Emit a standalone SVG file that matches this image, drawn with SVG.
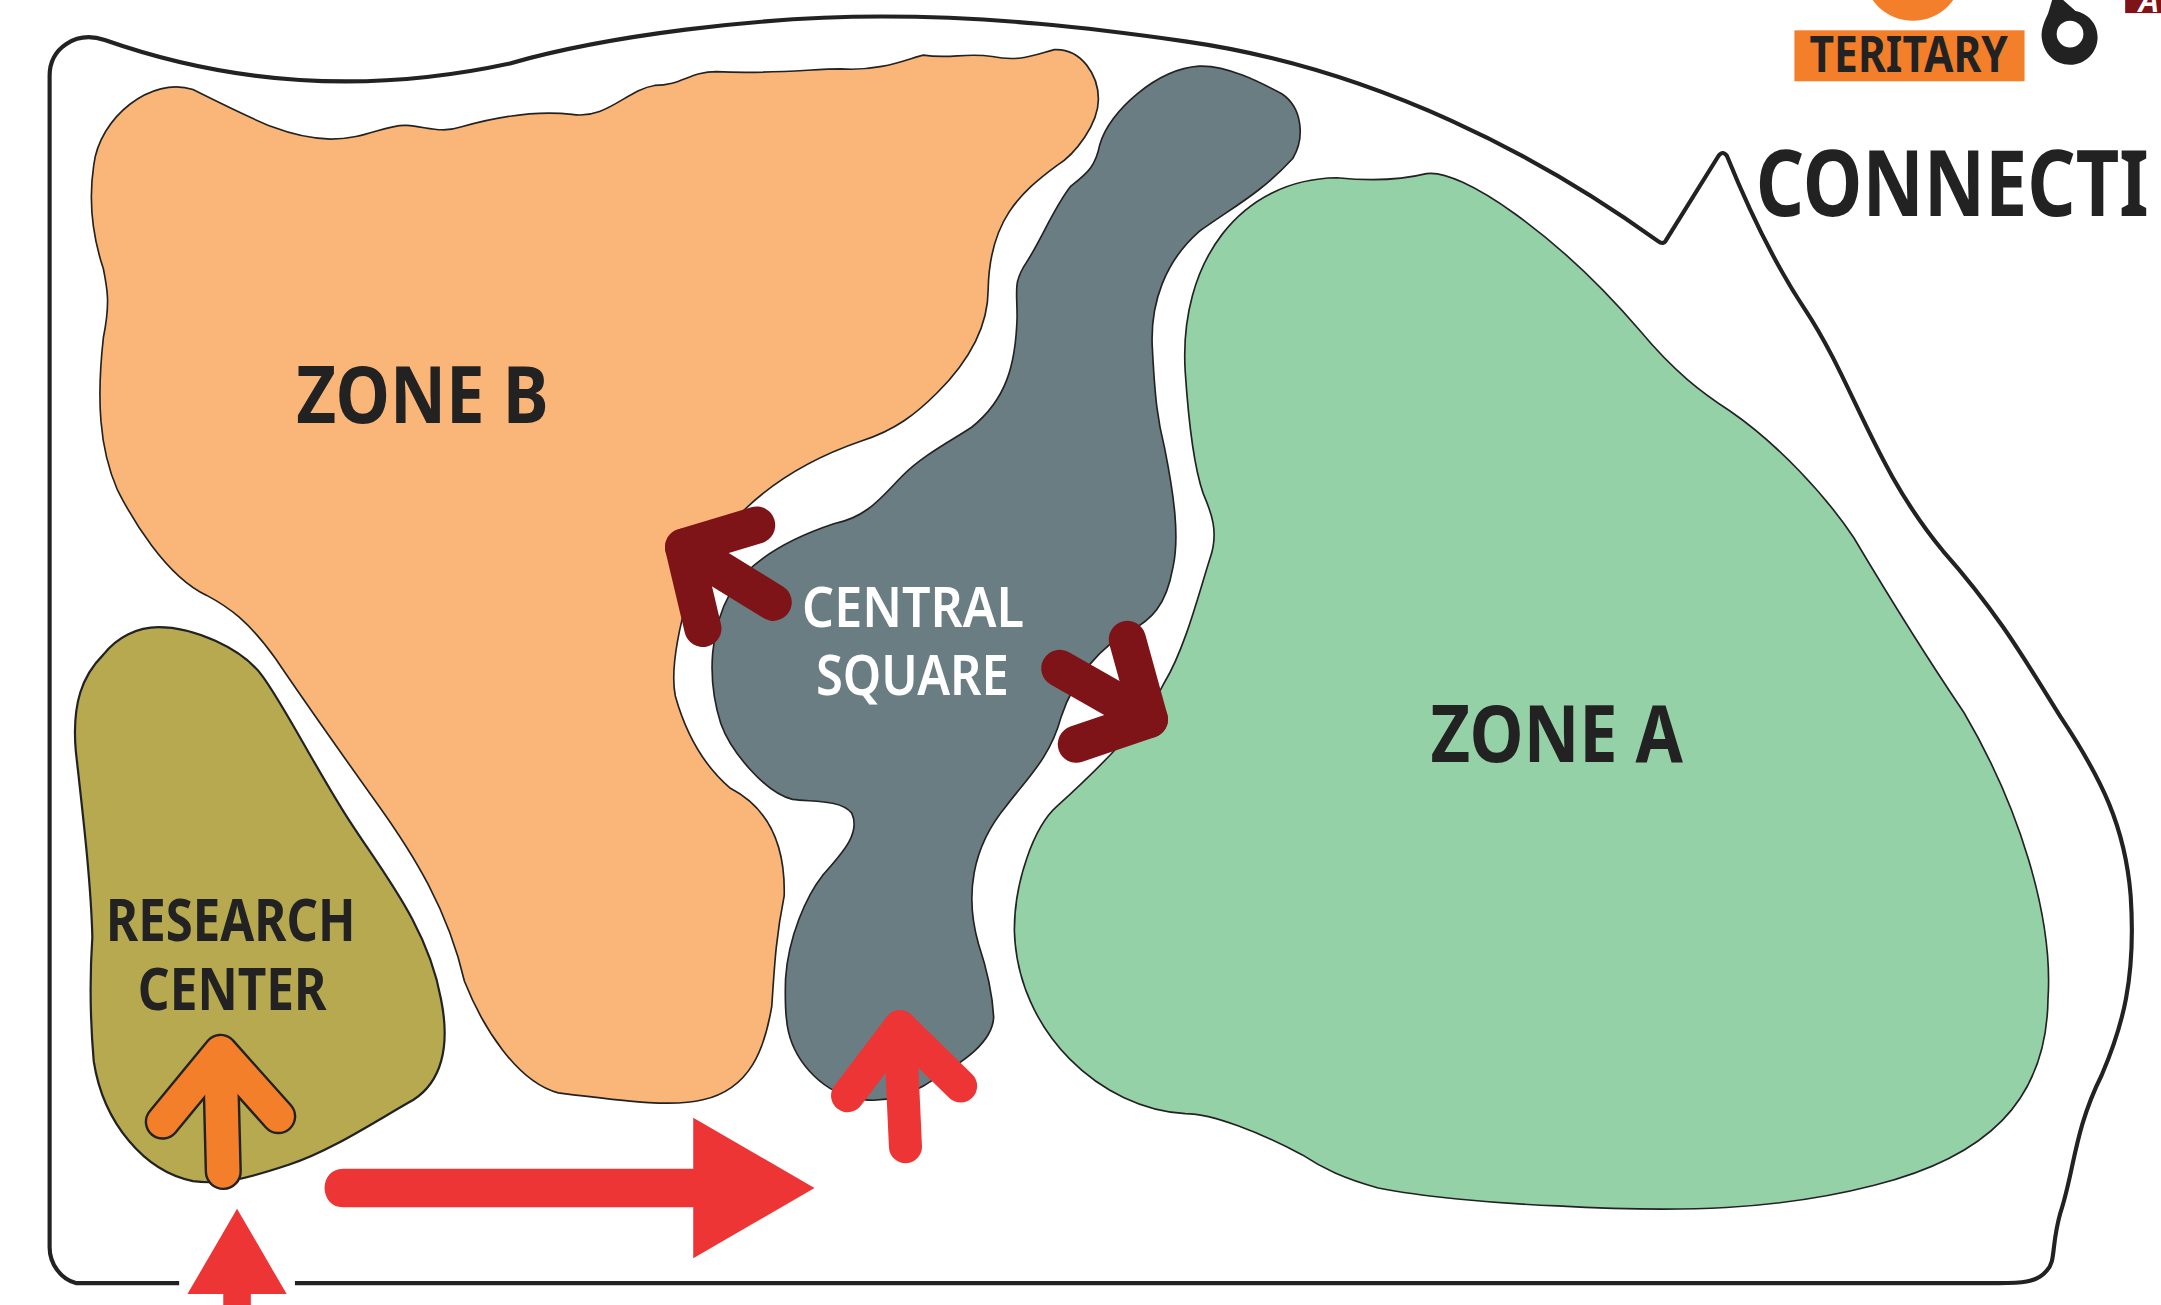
<svg xmlns="http://www.w3.org/2000/svg" width="2161" height="1305" viewBox="0 0 2161 1305">
<style>
.zone{stroke:#222;stroke-width:1.2}
.t{font-family:"Noto Sans","Open Sans",sans-serif;font-weight:700;fill:#222;text-anchor:start}
.w{fill:#fff;font-weight:600}
.ln{fill:none;stroke-linecap:round;stroke-linejoin:round}
</style>
<rect width="2161" height="1305" fill="#fff"/>
<g transform="scale(1.37819)">
<g id="boundary">
<path d="M130,931 L55,931 C44,928 36,917 36,905 L36,55 C36,35 55,22 76,29 C150,55 250,72 370,46 C440,26 550,12 640,12 C720,12 790,20 860,30 C1000,50 1120,115 1203,175 Q1207,178 1209,174 L1247,113 Q1250,109 1253,113 C1270,155 1290,195 1310,225 C1345,278 1360,340 1410,400 C1450,445 1470,480 1495,520 C1525,565 1542,600 1546,650 C1550,710 1540,745 1525,780 C1505,820 1505,850 1495,880 C1488,905 1492,915 1485,922 C1478,931 1465,931 1450,931 L214,931" fill="none" stroke="#222" stroke-width="3" stroke-linejoin="round"/>
</g>
<g id="zone-b">
<path class="zone" fill="#FAB678" d="M140,65 C190,90 210,100 240,101 C265,101 280,90 295,91 C310,92 320,97 335,92 C360,85 390,80 415,83 C440,87 455,65 475,62 C495,62 500,52 520,52 C560,54 590,50 610,50 C640,52 660,42 670,40 C690,43 700,38 720,41 C740,45 750,40 765,36 C785,35 797,55 797,72 C797,90 780,112 767,120 C740,140 718,160 717,210 C717,240 700,265 680,285 C665,300 650,312 625,320 C590,332 560,350 538,372 L500,430 C490,465 487,490 490,505 C497,530 510,555 530,572 C555,585 570,610 569,650 C563,680 562,700 560,730 C555,760 545,790 510,798 C490,803 460,800 405,793 C375,785 350,745 337,712 C325,660 300,620 275,585 C250,550 225,515 200,478 C180,450 165,440 150,432 C120,418 95,375 85,355 C72,325 70,290 75,245 C80,220 78,210 75,195 C65,165 65,140 68,120 C72,85 110,55 140,65 Z"/>
<text class="t" x="215" y="307" font-size="57" textLength="183" lengthAdjust="spacingAndGlyphs">ZONE B</text>
</g>
<g id="central-square">
<path class="zone" fill="#6A7D82" d="M870,48 C890,47 915,60 930,68 C945,78 947,100 938,115 C915,140 895,150 870,168 C845,190 835,220 836,250 C838,290 840,305 845,325 C852,360 856,390 851,412 C846,440 835,450 820,458 C800,468 780,490 770,520 C762,550 745,565 730,585 C705,615 700,650 710,685 C715,700 720,720 721,738 C720,760 690,775 670,788 C640,805 610,800 590,780 C570,760 569,740 570,710 C572,680 585,650 597,635 C610,620 625,605 618,590 C610,580 590,582 575,580 C555,575 530,545 523,525 C512,490 516,455 530,430 C545,405 575,390 605,380 C630,375 640,360 655,345 C670,330 690,320 705,310 C730,290 737,265 738,230 C738,210 735,205 745,190 C755,175 765,150 777,135 C790,125 795,120 798,105 C805,80 840,50 870,48 Z"/>
<text class="t w" x="582" y="455" font-size="41" textLength="161" lengthAdjust="spacingAndGlyphs">CENTRAL</text>
<text class="t w" x="592" y="504" font-size="41" textLength="140" lengthAdjust="spacingAndGlyphs">SQUARE</text>
</g>
<g id="zone-a">
<path class="zone" fill="#95D1A7" d="M970,129 C990,131 1015,131 1035,126 C1060,122 1130,170 1190,240 C1215,270 1235,285 1255,298 C1290,322 1325,360 1345,390 C1370,432 1400,480 1425,517 C1465,585 1490,665 1486,725 C1485,800 1440,840 1360,860 C1290,878 1220,880 1130,875 C1080,873 1030,868 1000,862 C975,855 960,848 945,838 C915,822 880,808 860,808 C800,805 738,750 736,675 C736,640 750,600 767,585 C800,555 830,525 845,495 C860,470 870,430 878,405 C885,385 878,370 873,358 C865,335 862,300 860,270 C855,190 900,130 970,129 Z"/>
<text class="t" x="1038" y="553" font-size="57" textLength="183" lengthAdjust="spacingAndGlyphs">ZONE A</text>
</g>
<g id="research-center">
<path class="zone" style="stroke-width:1.6" fill="#B7A94F" d="M115,455 C140,455 175,470 190,490 C205,510 225,550 250,590 C275,630 310,670 320,725 C327,760 320,785 300,798 C270,815 240,835 210,845 C180,855 160,860 140,857 C105,850 75,815 68,770 C65,735 65,710 67,680 C66,640 60,590 55,545 C52,510 60,490 75,475 C85,462 100,455 115,455 Z"/>
<text class="t" x="77" y="683" font-size="43" textLength="181" lengthAdjust="spacingAndGlyphs">RESEARCH</text>
<text class="t" x="100" y="733" font-size="43" textLength="137" lengthAdjust="spacingAndGlyphs">CENTER</text>
</g>
<g id="connectors">
<g class="ln" stroke="#7F1418" stroke-width="27">
<path d="M549,381 L496,397 L510,456"/><path d="M496,397 L561,437"/>
<path d="M818,464 L834,522 L781,540"/><path d="M769,485 L834,522"/>
</g>
<g class="ln" stroke="#EE3535" stroke-width="24">
<path d="M615,795 L653,745 L697,788"/><path d="M653,745 L657,832"/>
</g>
<g class="ln">
<path d="M118,814 L160,763 L202,810" stroke="#222" stroke-width="26"/>
<path d="M160,770 L162,850" stroke="#222" stroke-width="27"/>
<path d="M118,814 L160,763 L202,810" stroke="#F47F2A" stroke-width="22.5"/>
<path d="M160,770 L162,850" stroke="#F47F2A" stroke-width="23.5"/>
</g>
<path fill="#EE3535" d="M249,848 L503,848 L503,811 L591,862 L503,913 L503,876 L249,876 C231,876 231,848 249,848 Z"/>
<path fill="#EE3535" d="M172,877 L208,939 L182,939 L182,947 L162,947 L162,939 L136,939 Z"/>
</g>
<g id="legend">
<circle cx="1388" cy="-21" r="36" fill="#F47F2A"/>
<rect x="1302" y="22" width="167" height="37" fill="#F47F2A"/>
<text class="t" x="1313" y="52" font-size="36" textLength="144" lengthAdjust="spacingAndGlyphs">TERITARY</text>
<path d="M1489,0 L1486,10 C1482,18 1481,23 1481.5,28 C1483,39 1491,47 1502,47 C1513,47 1522,38 1522,27 C1522,17 1515,10 1506,8 L1497,0 Z M1502,15 A9.7,9.7 0 1 0 1502,34.4 A9.7,9.7 0 1 0 1502,15 Z" fill="#222" fill-rule="evenodd"/>
<rect x="1542" y="0" width="26" height="9.5" fill="#7F1418"/>
<text class="t w" x="1552" y="8.5" font-size="24" font-style="italic">A</text>
<text class="t" x="1274" y="157" font-size="67" textLength="285" lengthAdjust="spacingAndGlyphs">CONNECTI</text>
</g>
</g>
</svg>
